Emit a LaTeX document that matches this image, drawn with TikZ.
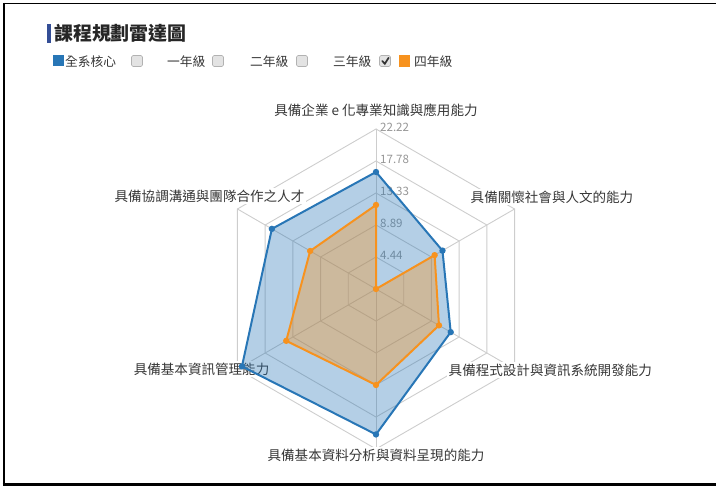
\documentclass[tikz,border=0pt]{standalone}
\usepackage{fontspec}
\setmainfont{Noto Sans CJK TC}
\usetikzlibrary{calc}
\definecolor{coreblue}{RGB}{40,118,182}
\definecolor{gradeorange}{RGB}{247,146,30}
\definecolor{gridgray}{RGB}{205,205,205}
\definecolor{ticktext}{RGB}{150,150,150}
\definecolor{labeltext}{RGB}{55,55,55}
\definecolor{titlebar}{RGB}{52,78,150}
\tikzset{>=latex}
\tikzstyle{grid line}=[gridgray,line width=0.9bp]
\tikzstyle{axis label}=[text=labeltext,font=\fontsize{13.6}{15}\selectfont,fill=white,inner sep=1.5bp]
\tikzstyle{tick label}=[text=ticktext,font=\fontsize{11.6}{12}\selectfont,anchor=west,inner sep=0pt]
\tikzstyle{legend text}=[text=labeltext,font=\fontsize{12.8}{14}\selectfont,anchor=west,inner sep=0pt]
\tikzstyle{checkbox}=[draw=gray!60,fill=gray!22,rounded corners=1.5bp,line width=0.6bp]
\tikzstyle{series line}=[line width=2bp,line join=round]
\newcommand{\pxunit}{7.2}

\begin{document}
\begin{tikzpicture}[x=1bp,y=-1bp,line cap=round]
  \useasboundingbox (0,0) rectangle (716,486);
  % frame
  \draw[line width=1.5bp,line cap=butt] (3,3.5) -- (716,3.5);
  \draw[line width=2bp,line cap=butt] (3.5,3) -- (3.5,486);
  \draw[line width=3bp,line cap=butt] (2.5,484) -- (716,484);

  % title and legend
  \fill[titlebar] (46.5,24) rectangle (50.5,43);
  \node[anchor=west,inner sep=0pt,text=black!85,font=\fontsize{19}{20}\selectfont\bfseries]
    (title) at (54,33) {課程規劃雷達圖};
  \fill[coreblue] (53,55.5) rectangle (63.5,66);
  \node[legend text] (coreitem) at (65,61.5) {全系核心};
  \draw[checkbox] (131.5,55.5) rectangle (142.5,66.5);
  \node[legend text] (year1) at (167,61.5) {一年級};
  \draw[checkbox] (212.5,55.5) rectangle (223.5,66.5);
  \node[legend text] (year2) at (250,61.5) {二年級};
  \draw[checkbox] (296.5,55.5) rectangle (307.5,66.5);
  \node[legend text] (year3) at (333,61.5) {三年級};
  \draw[checkbox] (379.5,55.5) rectangle (390.5,66.5);
  \draw[line width=1.7bp,black!80] (382.3,61) -- (384.8,63.8) -- (388.6,57.8);
  \fill[gradeorange] (398.5,55.5) rectangle (410,67);
  \node[legend text] (year4) at (414,61.5) {四年級};

  \begin{scope}[shift={(376,289)}]
    % grid
    \foreach \ring in {1,...,5}
      \draw[grid line] (-90:{\ring*32}) \foreach \a in {-30,30,...,210} { -- (\a:{\ring*32}) } -- cycle;
    \foreach \a in {-90,-30,...,210}
      \draw[grid line] (0,0) -- (\a:160);
    \foreach \ring/\val in {1/4.44,2/8.89,3/13.33,4/17.78,5/22.22}
      \node[tick label] (tick\ring) at (4,{-\ring*32-2}) {\val};

    % axis names
    \node[axis label] (ax1) at (0,-179) {具備企業 e 化專業知識與應用能力};
    \node[axis label,anchor=west] (ax2) at (93,-92) {具備關懷社會與人文的能力};
    \node[axis label,anchor=west] (ax3) at (71,81) {具備程式設計與資訊系統開發能力};
    \node[axis label] (ax4) at (0,166) {具備基本資料分析與資料呈現的能力};
    \node[axis label,anchor=east] (ax5) at (-105,80) {具備基本資訊管理能力};
    \node[axis label,anchor=east] (ax6) at (-70,-93) {具備協調溝通與團隊合作之人才};

    % series
    \foreach \a/\v [count=\i] in {-90/16.25,-30/10.66,30/11.98,90/20.2,150/21.5,210/16.7}
      \coordinate (core\i) at (\a:{\v*\pxunit});
    \foreach \a/\v [count=\i] in {-90/11.67,-30/9.4,30/10.1,90/13.33,150/14.4,210/10.56}
      \coordinate (grade\i) at (\a:{\v*\pxunit});
    \coordinate (grade0) at (0,0);

    \fill[coreblue,fill opacity=0.35] (core1) -- (core2) -- (core3) -- (core4) -- (core5) -- (core6) -- cycle;
    \draw[series line,coreblue] (core1) -- (core2) -- (core3) -- (core4) -- (core5) -- (core6) -- cycle;
    \fill[gradeorange,fill opacity=0.36] (grade0) -- (grade2) -- (grade3) -- (grade4) -- (grade5) -- (grade6) -- (grade1) -- cycle;
    \draw[series line,gradeorange] (grade0) -- (grade2) -- (grade3) -- (grade4) -- (grade5) -- (grade6) -- (grade1) -- cycle;
    \foreach \i in {1,...,6}
      \fill[coreblue] (core\i) circle (3.2);
    \foreach \i in {0,...,6}
      \fill[gradeorange] (grade\i) circle (3.2);
  \end{scope}
\end{tikzpicture}
\end{document}
